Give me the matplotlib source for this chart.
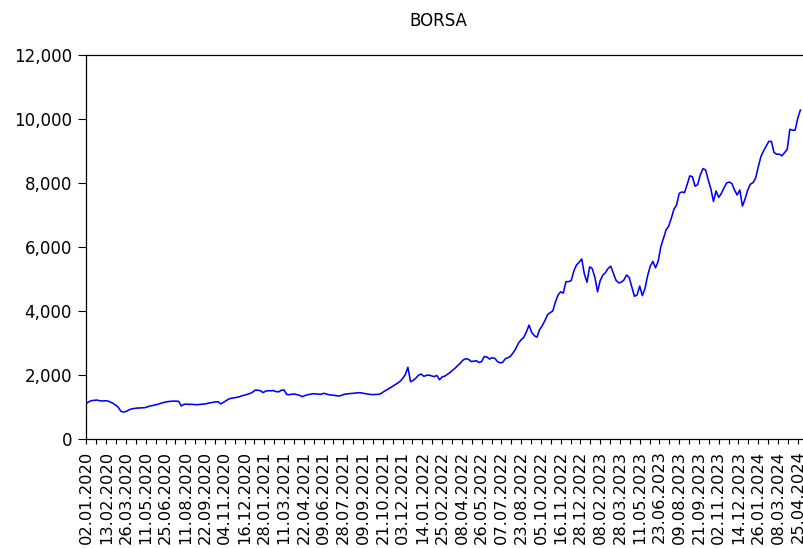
import matplotlib
matplotlib.use("Agg")
import matplotlib.pyplot as plt
from matplotlib.ticker import FuncFormatter, FixedLocator
import numpy as np

# BORSA index, one value every 4th trading day starting 02.01.2020
title = "BORSA"
step = 4
borsa = [
    1116, 1170, 1200, 1210, 1218, 1195, 1188, 1195, 1190, 1155,
    1120, 1060, 1000, 870, 840, 860, 905, 938, 950, 965,
    970, 975, 978, 1000, 1030, 1045, 1065, 1084, 1110, 1135,
    1155, 1170, 1178, 1185, 1180, 1178, 1031, 1084, 1090, 1080,
    1085, 1075, 1072, 1080, 1090, 1096, 1115, 1132, 1145, 1160,
    1165, 1094, 1145, 1200, 1250, 1275, 1285, 1300, 1320, 1350,
    1370, 1395, 1420, 1460, 1525, 1525, 1512, 1450, 1495, 1510,
    1505, 1512, 1480, 1475, 1525, 1532, 1390, 1385, 1400, 1405,
    1385, 1360, 1322, 1360, 1385, 1400, 1415, 1410, 1400, 1397,
    1428, 1405, 1384, 1375, 1365, 1350, 1345, 1370, 1400, 1410,
    1420, 1425, 1435, 1445, 1445, 1430, 1415, 1400, 1392, 1388,
    1392, 1397, 1430, 1490, 1535, 1585, 1635, 1690, 1740, 1800,
    1890, 2010, 2241, 1791, 1830, 1900, 1990, 2030, 1960, 1985,
    2000, 1970, 1950, 1985, 1850, 1940, 1965, 2020, 2080, 2150,
    2220, 2300, 2380, 2470, 2510, 2490, 2420, 2430, 2445, 2390,
    2420, 2580, 2560, 2500, 2540, 2520, 2420, 2380, 2395, 2510,
    2540, 2590, 2700, 2830, 3000, 3100, 3180, 3350, 3560, 3330,
    3230, 3180, 3420, 3540, 3700, 3880, 3948, 4000, 4280, 4500,
    4600, 4560, 4917, 4917, 4950, 5250, 5438, 5520, 5625, 5150,
    4900, 5380, 5320, 5050, 4600, 4950, 5120, 5200, 5330, 5400,
    5177, 4960, 4880, 4900, 4970, 5125, 5050, 4750, 4460, 4500,
    4780, 4480, 4700, 5100, 5400, 5550, 5350, 5550, 6000, 6271,
    6531, 6650, 6900, 7180, 7313, 7677, 7720, 7700, 7950, 8220,
    8200, 7900, 7950, 8250, 8450, 8410, 8100, 7820, 7420, 7750,
    7550, 7677, 7850, 8000, 8030, 7980, 7781, 7625, 7781, 7280,
    7500, 7781, 7960, 8010, 8150, 8500, 8823, 9000, 9150, 9300,
    9300, 8950, 8900, 8900, 8850, 8950, 9050, 9680, 9650, 9650,
    10021, 10281,
]

# date labels, one every 30 observations
label_every = 30
date_labels = [
    "02.01.2020", "13.02.2020", "26.03.2020", "11.05.2020", "25.06.2020",
    "11.08.2020", "22.09.2020", "04.11.2020", "16.12.2020",
    "28.01.2021", "11.03.2021", "22.04.2021", "09.06.2021", "28.07.2021",
    "09.09.2021", "21.10.2021", "03.12.2021",
    "14.01.2022", "25.02.2022", "08.04.2022", "26.05.2022", "07.07.2022",
    "23.08.2022", "05.10.2022", "16.11.2022", "28.12.2022",
    "08.02.2023", "28.03.2023", "11.05.2023", "23.06.2023", "09.08.2023",
    "21.09.2023", "02.11.2023", "14.12.2023",
    "26.01.2024", "08.03.2024", "25.04.2024",
]
y_ticks = [0, 2000, 4000, 6000, 8000, 10000, 12000]

plt.rcParams["font.family"] = ["DejaVu Sans"]
FS = 12.0
XFS = 11.7

W, H = 804, 548
fig = plt.figure(figsize=(W / 100, H / 100), dpi=100)
left, right, top, bottom = 86.5, 805.0, 55.0, 439.0
ax = fig.add_axes([left / W, 1 - bottom / H, (right - left) / W, (bottom - top) / H])

obs = np.arange(len(borsa)) * step
ax.plot(obs, borsa, color="#0000ff", lw=1.15, solid_joinstyle="round")

ax.set_xlim(0, 1091)
ax.set_ylim(0, 12000)

major = np.arange(len(date_labels)) * label_every
ax.xaxis.set_major_locator(FixedLocator(major))
ax.xaxis.set_minor_locator(FixedLocator(major[:-1] + label_every // 2))
ax.set_xticklabels(date_labels, rotation=90, fontsize=XFS)
ax.set_yticks(y_ticks)
ax.yaxis.set_major_formatter(FuncFormatter(lambda v, p: f"{v:,.0f}"))
ax.tick_params(axis="y", labelsize=FS, length=5.8, width=0.8, pad=4.6, direction="out")
ax.tick_params(axis="x", which="both", length=3.3, width=0.8, pad=5.0, direction="out")

for s in ("left", "bottom", "top"):
    ax.spines[s].set_linewidth(0.9)
    ax.spines[s].set_color("black")
ax.spines["right"].set_visible(False)

fig.text(438 / W, 1 - 26 / H, title, ha="center", va="baseline", fontsize=FS)

fig.savefig("out.png", dpi=100)
